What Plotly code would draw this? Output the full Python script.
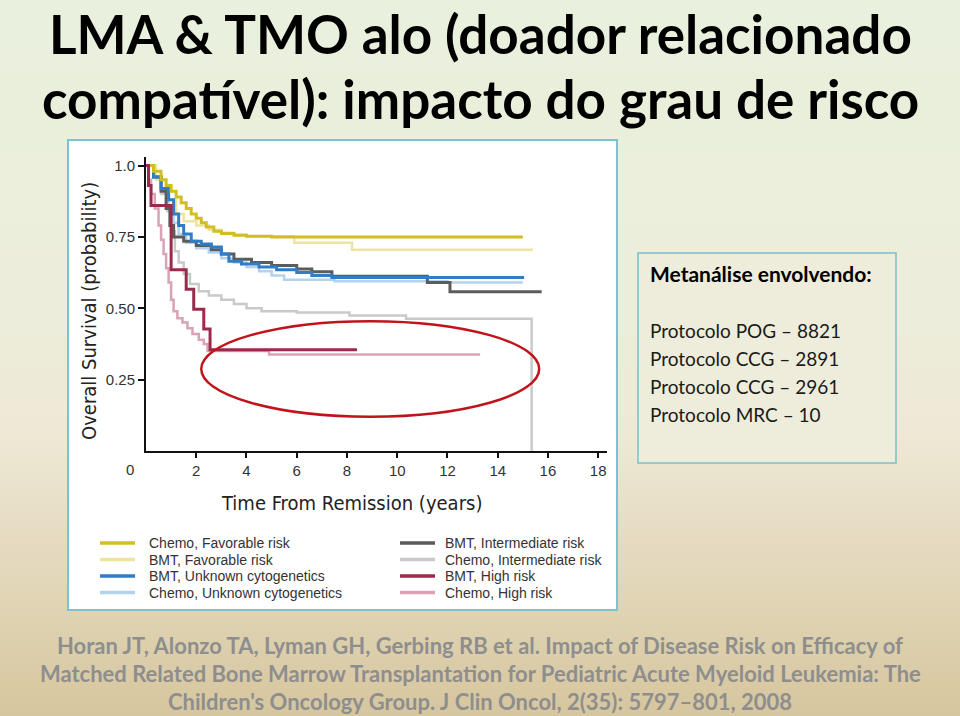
import plotly.graph_objects as go

# ---------------- data ----------------
series_names = [
    "Chemo, Favorable risk", "BMT, Favorable risk",
    "BMT, Unknown cytogenetics", "Chemo, Unknown cytogenetics",
    "BMT, Intermediate risk", "Chemo, Intermediate risk",
    "BMT, High risk", "Chemo, High risk",
]

chemo_fav_t = [0, 0.3, 0.6, 0.8, 1.0, 1.2, 1.4, 1.6, 1.8, 2.0, 2.2, 2.4, 2.7, 3.0, 3.5, 4.0, 5.0, 15.0]
chemo_fav_s = [1.0, 0.98, 0.95, 0.93, 0.91, 0.89, 0.87, 0.85, 0.83, 0.815, 0.80, 0.785, 0.77, 0.762, 0.756, 0.752, 0.75, 0.75]

bmt_fav_t = [0, 0.4, 0.8, 1.2, 1.5, 2.0, 2.5, 3.0, 3.5, 4.0, 5.9, 8.2, 15.4]
bmt_fav_s = [1.0, 0.95, 0.88, 0.83, 0.805, 0.79, 0.775, 0.765, 0.758, 0.752, 0.73, 0.705, 0.705]

bmt_unk_t = [0, 0.3, 0.6, 0.9, 1.1, 1.3, 1.5, 1.8, 2.2, 2.6, 3.0, 3.3, 3.8, 4.5, 5.2, 6.0, 6.6, 7.4, 15.05]
bmt_unk_s = [1.0, 0.96, 0.92, 0.88, 0.83, 0.79, 0.76, 0.735, 0.725, 0.715, 0.69, 0.665, 0.655, 0.645, 0.635, 0.625, 0.615, 0.608, 0.608]

chemo_unk_t = [0, 0.3, 0.6, 0.9, 1.1, 1.3, 1.6, 2.0, 2.5, 3.0, 3.5, 4.0, 4.5, 5.0, 5.5, 7.5, 12.0, 15.0]
chemo_unk_s = [1.0, 0.96, 0.91, 0.86, 0.80, 0.76, 0.73, 0.71, 0.695, 0.675, 0.66, 0.645, 0.63, 0.615, 0.60, 0.595, 0.59, 0.59]

bmt_int_t = [0, 0.3, 0.6, 0.8, 0.95, 1.1, 1.5, 2.0, 2.6, 3.0, 3.5, 4.2, 5.0, 6.0, 6.6, 7.4, 11.2, 12.1, 15.75]
bmt_int_s = [1.0, 0.96, 0.91, 0.85, 0.79, 0.75, 0.735, 0.72, 0.705, 0.69, 0.672, 0.66, 0.65, 0.638, 0.628, 0.612, 0.59, 0.558, 0.558]

chemo_int_t = [0, 0.3, 0.6, 0.85, 1.0, 1.15, 1.3, 1.5, 1.75, 2.1, 2.5, 3.0, 3.5, 4.0, 4.6, 6.0, 8.1, 10.35, 15.35, 15.35]
chemo_int_s = [1.0, 0.96, 0.90, 0.84, 0.77, 0.70, 0.66, 0.62, 0.585, 0.56, 0.545, 0.53, 0.515, 0.50, 0.49, 0.485, 0.475, 0.463, 0.463, 0.0]

bmt_high_t = [0, 0.1, 0.2, 1.0, 1.6, 1.9, 2.3, 2.55, 8.4]
bmt_high_s = [1.0, 0.93, 0.86, 0.635, 0.567, 0.497, 0.427, 0.355, 0.355]

chemo_high_t = [0, 0.1, 0.2, 0.35, 0.5, 0.6, 0.7, 0.8, 0.9, 1.0, 1.1, 1.25, 1.45, 1.65, 1.85, 2.1, 2.3, 2.45, 4.9, 13.3]
chemo_high_s = [1.0, 0.95, 0.90, 0.85, 0.79, 0.74, 0.69, 0.64, 0.59, 0.53, 0.49, 0.465, 0.45, 0.43, 0.41, 0.39, 0.375, 0.35, 0.338, 0.338]

x_tick_vals = [2, 4, 6, 8, 10, 12, 14, 16, 18]
x_tick_text = ["2", "4", "6", "8", "10", "12", "14", "16", "18"]
y_tick_vals = [0.25, 0.5, 0.75, 1.0]
y_tick_text = ["0.25", "0.50", "0.75", "1.0"]

title_lines = ["LMA &amp; TMO alo (doador relacionado", "compatível): impacto do grau de risco"]
box_heading = "Metanálise envolvendo:"
box_lines = ["Protocolo POG – 8821", "Protocolo CCG – 2891", "Protocolo CCG – 2961", "Protocolo MRC – 10"]
citation_lines = [
    "Horan JT, Alonzo TA, Lyman GH, Gerbing RB et al. Impact of Disease Risk on Efficacy of",
    "Matched Related Bone Marrow Transplantation for Pediatric Acute Myeloid Leukemia: The",
    "Children's Oncology Group. J Clin Oncol, 2(35): 5797–801, 2008",
]

# ---------------- styling ----------------
W, H = 960, 716
CHART = "Liberation Sans Narrow, DejaVu Sans Condensed, Liberation Sans, Arial, sans-serif"
SANS = "Liberation Sans, Arial, sans-serif"
SLIDE = "Lato, Carlito, Calibri, Open Sans, sans-serif"

series_data = {
    "Chemo, Favorable risk": (chemo_fav_t, chemo_fav_s),
    "BMT, Favorable risk": (bmt_fav_t, bmt_fav_s),
    "BMT, Unknown cytogenetics": (bmt_unk_t, bmt_unk_s),
    "Chemo, Unknown cytogenetics": (chemo_unk_t, chemo_unk_s),
    "BMT, Intermediate risk": (bmt_int_t, bmt_int_s),
    "Chemo, Intermediate risk": (chemo_int_t, chemo_int_s),
    "BMT, High risk": (bmt_high_t, bmt_high_s),
    "Chemo, High risk": (chemo_high_t, chemo_high_s),
}
style = {
    "Chemo, Favorable risk": ("#D3BE22", 3),
    "BMT, Favorable risk": ("#EDE4A2", 2.5),
    "BMT, Unknown cytogenetics": ("#2F7DC5", 3),
    "Chemo, Unknown cytogenetics": ("#B3D2EE", 2.5),
    "BMT, Intermediate risk": ("#5C5C5C", 3),
    "Chemo, Intermediate risk": ("#C9C9C9", 2.5),
    "BMT, High risk": ("#9C2B4B", 3),
    "Chemo, High risk": ("#D9A3B3", 2.5),
}
draw_order = ["BMT, Favorable risk", "Chemo, Unknown cytogenetics", "Chemo, Intermediate risk",
              "Chemo, High risk", "BMT, Intermediate risk", "BMT, Unknown cytogenetics",
              "Chemo, Favorable risk", "BMT, High risk"]

fig = go.Figure()
for name in draw_order:
    t, s = series_data[name]
    color, width = style[name]
    fig.add_trace(go.Scatter(
        x=t, y=s, mode="lines", name=name, showlegend=False,
        line=dict(color=color, width=width, shape="hv"), hoverinfo="skip",
    ))

# ---- gradient background (slide) via thin bands ----
stops = [(0, (233, 240, 221)), (300, (236, 238, 219)), (430, (238, 233, 214)),
         (560, (228, 217, 189)), (716, (214, 198, 158))]

def col_at(y):
    for (y0, c0), (y1, c1) in zip(stops[:-1], stops[1:]):
        if y0 <= y <= y1:
            f = (y - y0) / (y1 - y0)
            return "rgb(%d,%d,%d)" % tuple(round(a + (b - a) * f) for a, b in zip(c0, c1))
    return "rgb(%d,%d,%d)" % stops[-1][1]

shapes = []
band = 8
for y in range(0, H, band):
    shapes.append(dict(type="rect", xref="paper", yref="paper", layer="below",
                       x0=0, x1=1, y0=1 - (y + band + 1) / H, y1=1 - y / H,
                       fillcolor=col_at(y + band / 2), line=dict(width=0)))

def px_rect(x0, y0, x1, y1, fill, line_color, lw):
    return dict(type="rect", xref="paper", yref="paper", layer="below",
                x0=x0 / W, x1=x1 / W, y0=1 - y1 / H, y1=1 - y0 / H,
                fillcolor=fill, line=dict(color=line_color, width=lw))

shapes.append(px_rect(68, 140, 617, 610, "white", "#7CC3D0", 2))
shapes.append(px_rect(638, 253, 896, 463, "#EEEDDB", "#7BBFCB", 1.5))

# red ellipse highlight
shapes.append(dict(type="circle", xref="x", yref="y", layer="above",
                   x0=2.2, x1=15.65, y0=0.12, y1=0.455,
                   line=dict(color="#C0141C", width=2.5)))

ann = []
def px_text(text, x, y, size, color="black", family=SLIDE, xanchor="center", bold=False, angle=0):
    if bold:
        text = "<b>%s</b>" % text
    ann.append(dict(text=text, xref="paper", yref="paper", x=x / W, y=1 - y / H,
                    xanchor=xanchor, yanchor="middle", showarrow=False, textangle=angle,
                    font=dict(size=size, color=color, family=family)))

# ---- legend of the figure (two columns) ----
legend_cols = [series_names[:4], series_names[4:]]
legend_col_x = [100, 400]
legend_row_y = [543, 559.5, 576, 592.5]
for col, names in enumerate(legend_cols):
    lx = legend_col_x[col]
    for row, name in enumerate(names):
        ly = legend_row_y[row]
        color, _ = style[name]
        shapes.append(dict(type="line", xref="paper", yref="paper", layer="above",
                           x0=lx / W, x1=(lx + 35) / W, y0=1 - ly / H, y1=1 - ly / H,
                           line=dict(color=color, width=3.5)))
        px_text(name, lx + 47 if col == 0 else lx + 43, ly, 14, color="#333", family=SANS, xanchor="left")

# title
px_text(title_lines[0], 480, 34, 53, bold=True)
px_text(title_lines[1], 480, 98, 53, bold=True)

# info box
px_text(box_heading, 648, 273, 21, xanchor="left", bold=True)
for i, line in enumerate(box_lines):
    px_text(line, 648, 330 + i * 28, 19, xanchor="left", color="#1a1a1a")

# citation
for i, line in enumerate(citation_lines):
    px_text(line, 480, 645 + i * 28, 22, color="#8E8E8E", bold=True)

# axis titles and the "0" label of the original figure
px_text("Overall Survival (probability)", 89, 311, 20, family=CHART, color="#222", angle=-90)
px_text("Time From Remission (years)", 351, 503, 20, family=CHART, color="#222")
px_text("0", 130, 470, 15, family=SANS, color="#333")

x0p, x1p = 146, 607
y_top, y_bot = 157, 451

fig.update_layout(
    width=W, height=H,
    margin=dict(l=0, r=0, t=0, b=0),
    paper_bgcolor="rgb(233,240,221)",
    plot_bgcolor="rgba(0,0,0,0)",
    shapes=shapes,
    annotations=ann,
    showlegend=False,
    xaxis=dict(domain=[x0p / W, x1p / W], range=[0, 18.35], showgrid=False, zeroline=False,
               showline=True, linecolor="#111", linewidth=2,
               ticks="outside", ticklen=5, tickwidth=1.5, tickcolor="#111",
               tickvals=x_tick_vals, ticktext=x_tick_text,
               tickfont=dict(family=SANS, size=15, color="#333")),
    yaxis=dict(domain=[1 - y_bot / H, 1 - y_top / H], range=[0, 1.03], showgrid=False, zeroline=False,
               showline=True, linecolor="#111", linewidth=2,
               ticks="outside", ticklen=6, tickwidth=1.5, tickcolor="#111",
               tickvals=y_tick_vals, ticktext=y_tick_text,
               tickfont=dict(family=SANS, size=15, color="#333")),
)

fig.write_html("out.html")
